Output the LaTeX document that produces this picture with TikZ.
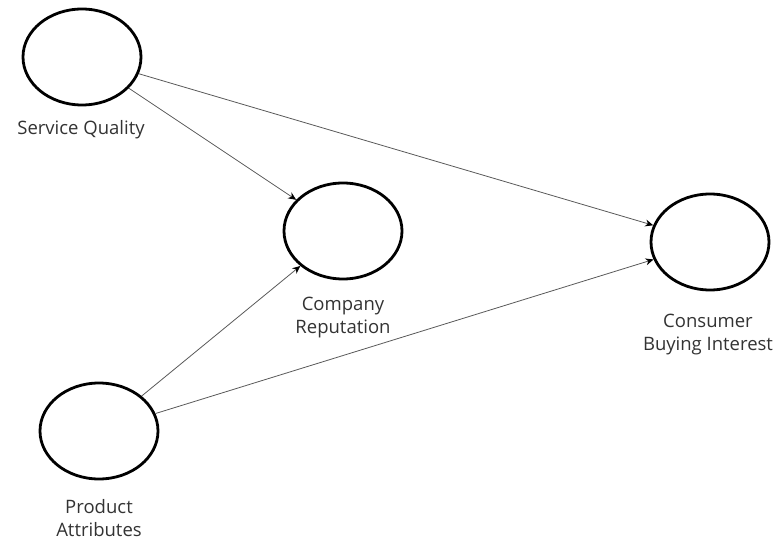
\documentclass[tikz,border=0pt]{standalone}
\usepackage{fontspec}
\setmainfont{Open Sans}
\usetikzlibrary{shapes.geometric,arrows.meta}
\begin{document}
\begin{tikzpicture}[x=1pt,y=-1pt,
        latent/.style={ellipse,draw,line width=2.8pt,minimum width=118pt,minimum height=96pt,inner sep=0pt},
        path/.style={draw=black!65,line width=0.8pt,-{Stealth[length=8pt,width=7pt,black]}},
        caption/.style={align=center,font=\fontsize{18.5}{23}\selectfont,text=black!80}]
        \useasboundingbox (0,0) rectangle (779,540);
        \node[latent] (sq) at (82,57) {};
        \node[latent] (cr) at (343,231) {};
        \node[latent] (cbi) at (710,242) {};
        \node[latent] (pa) at (99,431) {};
        \node[caption] at (81,130) {Service Quality};
        \node[caption] at (343,318) {Company\\Reputation};
        \node[caption] at (708,335) {Consumer\\Buying Interest};
        \node[caption] at (99,518) {Product\\Attributes};
        \foreach \a/\b in {sq/cr,sq/cbi,pa/cr,pa/cbi} {
            \draw[path] (\a) -- (\b);
        }
    \end{tikzpicture}
\end{document}
